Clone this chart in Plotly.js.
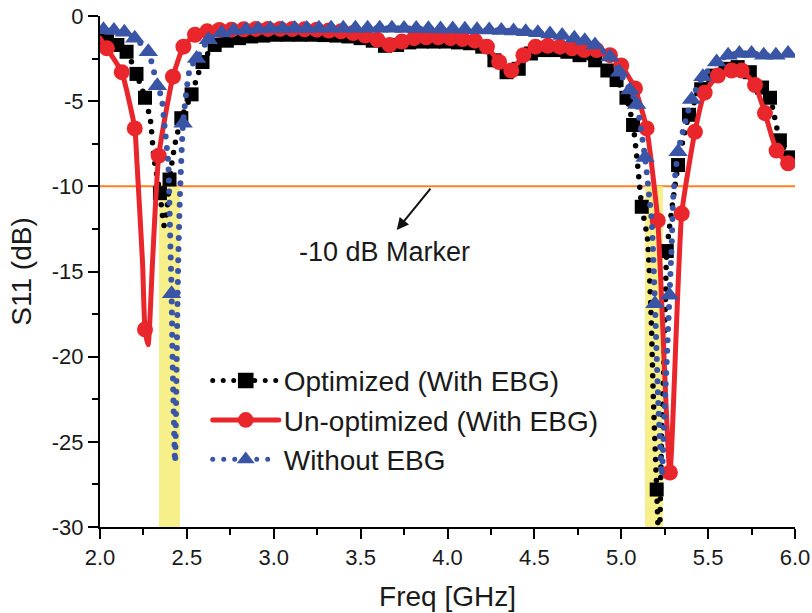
<!DOCTYPE html>
<html><head><meta charset="utf-8">
<script src="https://cdn.plot.ly/plotly-3.0.1.min.js"></script>
<style>
html,body{margin:0;padding:0;background:#fff;}
#chart{width:812px;height:613px;}
.js-line{stroke-linecap:round;stroke-linejoin:round;}
</style></head><body><div id="chart"></div>
<script>
// ---- Optimized (With EBG) : points carrying square markers
const optMarkF = [2.04, 2.10, 2.153, 2.21, 2.259, 2.345, 2.40, 2.468, 2.527, 2.59, 2.66, 2.73, 2.80, 2.87, 2.94, 3.01, 3.08, 3.15, 3.22, 3.29, 3.36, 3.43, 3.50, 3.57, 3.64, 3.71, 3.78, 3.85, 3.92, 3.99, 4.06, 4.13, 4.20, 4.27, 4.34, 4.41, 4.48, 4.55, 4.62, 4.69, 4.76, 4.85, 4.92, 4.973, 5.03, 5.068, 5.118, 5.204, 5.262, 5.327, 5.39, 5.46, 5.53, 5.60, 5.67, 5.74, 5.81, 5.856, 5.913, 5.97];
const optMarkS = [-1.4, -1.7, -2.1, -3.4, -4.8, -10.4, -9.6, -6.0, -4.6, -2.7, -1.7, -1.45, -1.3, -1.2, -1.15, -1.1, -1.1, -1.1, -1.1, -1.12, -1.15, -1.2, -1.3, -1.45, -1.75, -1.7, -1.55, -1.5, -1.5, -1.5, -1.55, -1.6, -1.8, -2.6, -3.3, -3.1, -2.2, -2.0, -2.0, -2.1, -2.3, -2.6, -3.2, -3.76, -4.8, -6.4, -11.2, -27.8, -13.8, -8.75, -5.8, -4.3, -3.5, -3.1, -3.0, -3.3, -4.2, -4.8, -7.3, -8.3];
// Optimized: other sampled points (no marker)
const optLineF = [2.0, 2.29, 2.31, 2.368, 2.385, 2.43, 5.09, 5.15, 5.17, 5.185, 5.218, 5.232, 5.244, 5.254, 6.0];
const optLineS = [-1.2, -6.1, -8.3, -12.3, -11.4, -7.6, -8.3, -13.0, -17.0, -22.5, -31.5, -24.7, -20.8, -16.8, -8.6];

// ---- Un-optimized (With EBG)
const unoMarkF = [2.04, 2.125, 2.20, 2.259, 2.338, 2.42, 2.48, 2.547, 2.617, 2.687, 2.757, 2.827, 2.897, 2.967, 3.037, 3.107, 3.177, 3.247, 3.317, 3.387, 3.457, 3.527, 3.597, 3.667, 3.737, 3.807, 3.877, 3.947, 4.017, 4.087, 4.157, 4.227, 4.297, 4.367, 4.437, 4.507, 4.577, 4.647, 4.717, 4.787, 4.858, 4.935, 5.00, 5.079, 5.146, 5.21, 5.28, 5.348, 5.424, 5.48, 5.556, 5.635, 5.693, 5.77, 5.827, 5.894, 5.96];
const unoMarkS = [-1.9, -3.3, -6.6, -18.4, -8.2, -3.56, -1.8, -1.1, -0.9, -0.82, -0.8, -0.78, -0.76, -0.76, -0.76, -0.77, -0.78, -0.8, -0.85, -0.9, -1.0, -1.15, -1.4, -1.7, -1.5, -1.3, -1.25, -1.25, -1.3, -1.35, -1.45, -1.8, -2.7, -3.2, -2.3, -1.8, -1.75, -1.8, -1.9, -2.0, -2.0, -2.3, -2.9, -4.25, -6.6, -12.0, -26.8, -11.6, -6.8, -4.5, -3.5, -3.2, -3.2, -4.05, -5.7, -7.9, -8.65];
const unoLineF = [2.0, 2.213, 2.245, 2.277, 2.302, 6.0];
const unoLineS = [-1.3, -8.65, -14.5, -19.3, -14.5, -8.7];

// ---- Without EBG
const noMarkF = [2.02, 2.08, 2.14, 2.20, 2.278, 2.33, 2.412, 2.478, 2.556, 2.624, 2.70, 2.77, 2.84, 2.91, 2.98, 3.05, 3.12, 3.19, 3.26, 3.33, 3.40, 3.47, 3.54, 3.61, 3.68, 3.75, 3.82, 3.89, 3.96, 4.03, 4.10, 4.17, 4.24, 4.31, 4.38, 4.45, 4.52, 4.59, 4.66, 4.73, 4.79, 4.849, 4.935, 4.99, 5.05, 5.089, 5.137, 5.194, 5.278, 5.327, 5.405, 5.47, 5.549, 5.615, 5.68, 5.75, 5.82, 5.89, 5.96];
const noMarkS = [-0.8, -0.85, -0.95, -1.3, -2.1, -4.1, -16.3, -6.3, -2.5, -1.4, -1.0, -0.85, -0.8, -0.77, -0.75, -0.75, -0.74, -0.73, -0.72, -0.72, -0.72, -0.72, -0.72, -0.72, -0.72, -0.73, -0.74, -0.75, -0.76, -0.77, -0.78, -0.8, -0.82, -0.85, -0.88, -0.93, -0.98, -1.05, -1.15, -1.3, -1.45, -1.7, -2.4, -3.3, -4.35, -5.2, -8.3, -16.9, -16.4, -7.97, -4.9, -3.56, -2.7, -2.3, -2.2, -2.2, -2.3, -2.3, -2.2];
const noLineF = [2.0, 2.355, 2.37, 2.393, 2.403, 2.418, 2.432, 2.441, 2.45, 2.46, 2.518, 5.16, 5.175, 5.213, 5.233, 5.25, 5.265, 5.29, 5.30, 6.0];
const noLineS = [-0.78, -4.8, -6.3, -8.65, -12.6, -20.4, -26.2, -20.4, -14.5, -10.6, -3.07, -10.5, -12.0, -22.7, -27.0, -23.0, -19.5, -13.5, -10.5, -2.2];

// ---- bands and marker level
const bandLow = [2.34, 5.137];
const bandHigh = [2.46, 5.24];
const markerLevel = -10;
const seriesNames = ['Optimized (With EBG)', 'Un-optimized (With EBG)', 'Without EBG'];
const xTicks = [2.0, 2.5, 3.0, 3.5, 4.0, 4.5, 5.0, 5.5, 6.0];
const yTicks = [0, -5, -10, -15, -20, -25, -30];

function build(markF, markS, lineF, lineS){
  const pts = [];
  markF.forEach((f,i)=>pts.push({f:f, s:markS[i], m:true}));
  lineF.forEach((f,i)=>pts.push({f:f, s:lineS[i], m:false}));
  pts.sort((a,b)=>a.f-b.f);
  return pts;
}
function trace(pts, name, color, symbol, msize, dash, lw){
  return {
    type:'scatter', mode:'lines+markers', name:name,
    x: pts.map(p=>p.f), y: pts.map(p=>p.s),
    line:{color:color, width:lw, dash:dash, shape:'spline', smoothing:0.5},
    marker:{symbol:symbol, color:color, opacity:1, sizemode:'diameter', sizeref:1,
            size: pts.map(p=>p.m?msize:0), line:{width:0}}
  };
}
const data = [
  trace(build(optMarkF,optMarkS,optLineF,optLineS), seriesNames[0], '#000000', 'square', 14, '0px,10.5px', 5.5),
  trace(build(unoMarkF,unoMarkS,unoLineF,unoLineS), seriesNames[1], '#E8262B', 'circle', 16, 'solid', 5),
  trace(build(noMarkF,noMarkS,noLineF,noLineS), seriesNames[2], '#3A55A6', 'triangle-up', 17, '0px,11px', 6)
];

const shapes = bandLow.map((lo,i)=>({type:'rect', xref:'x', yref:'y', x0:lo, x1:bandHigh[i], y0:-30, y1:markerLevel, fillcolor:'#F6EF8A', line:{width:0}, layer:'below'}));
shapes.push({type:'line', xref:'paper', yref:'y', x0:0, x1:1, y0:markerLevel, y1:markerLevel, line:{color:'#FF8020', width:2}, layer:'below'});

const axisCommon = {
  showline:true, linewidth:2, linecolor:'#000', ticks:'outside', ticklen:10, tickwidth:2, tickcolor:'#000',
  showgrid:false, zeroline:false, tickfont:{size:22, color:'#1a1a1a'}, automargin:false
};
const layout = {
  width:812, height:613,
  margin:{l:100, r:17, t:16, b:86},
  paper_bgcolor:'#fff', plot_bgcolor:'#fff',
  font:{family:'"Liberation Sans", Arial, sans-serif', color:'#1a1a1a'},
  showlegend:true,
  xaxis:Object.assign({}, axisCommon, {range:[2,6], tickmode:'array', tickvals:xTicks, ticktext:xTicks.map(v=>v.toFixed(1)),
    minor:{dtick:0.25, tick0:2, ticklen:6, tickwidth:2, tickcolor:'#000', ticks:'outside', showgrid:false},
    title:{text:'Freq [GHz]', font:{size:28, color:'#1a1a1a'}, standoff:17}}),
  yaxis:Object.assign({}, axisCommon, {range:[-30,0], tickmode:'array', tickvals:yTicks, ticktext:yTicks.map(v=>String(v)),
    minor:{dtick:2.5, tick0:0, ticklen:6, tickwidth:2, tickcolor:'#000', ticks:'outside', showgrid:false},
    title:{text:'S11 (dB)', font:{size:28, color:'#1a1a1a'}, standoff:12}}),
  legend:{x:0.155, y:0.335, xanchor:'left', yanchor:'top', font:{size:28, color:'#1a1a1a'}, bgcolor:'rgba(0,0,0,0)', itemsizing:'constant', itemwidth:66, tracegroupgap:0},
  shapes:shapes,
  annotations:[
    {xref:'x', yref:'y', x:3.708, y:-12.57, axref:'x', ayref:'y', ax:3.909, ay:-10.05, text:'', showarrow:true, arrowhead:2, arrowsize:1.2, arrowwidth:2, arrowcolor:'#111'},
    {xref:'x', yref:'y', x:3.64, y:-13.86, text:'-10 dB Marker', showarrow:false, xanchor:'center', yanchor:'middle', font:{size:27, color:'#1a1a1a'}}
  ]
};
Plotly.newPlot('chart', data, layout, {displayModeBar:false, staticPlot:true}).then(function(gd){
  // enlarge legend symbols to match the plotted marker size
  gd.querySelectorAll('.legend .legendpoints path.scatterpts').forEach(function(p){
    var t = p.getAttribute('transform') || '';
    p.setAttribute('transform', t + ' scale(1.3)');
  });
});
</script></body></html>
